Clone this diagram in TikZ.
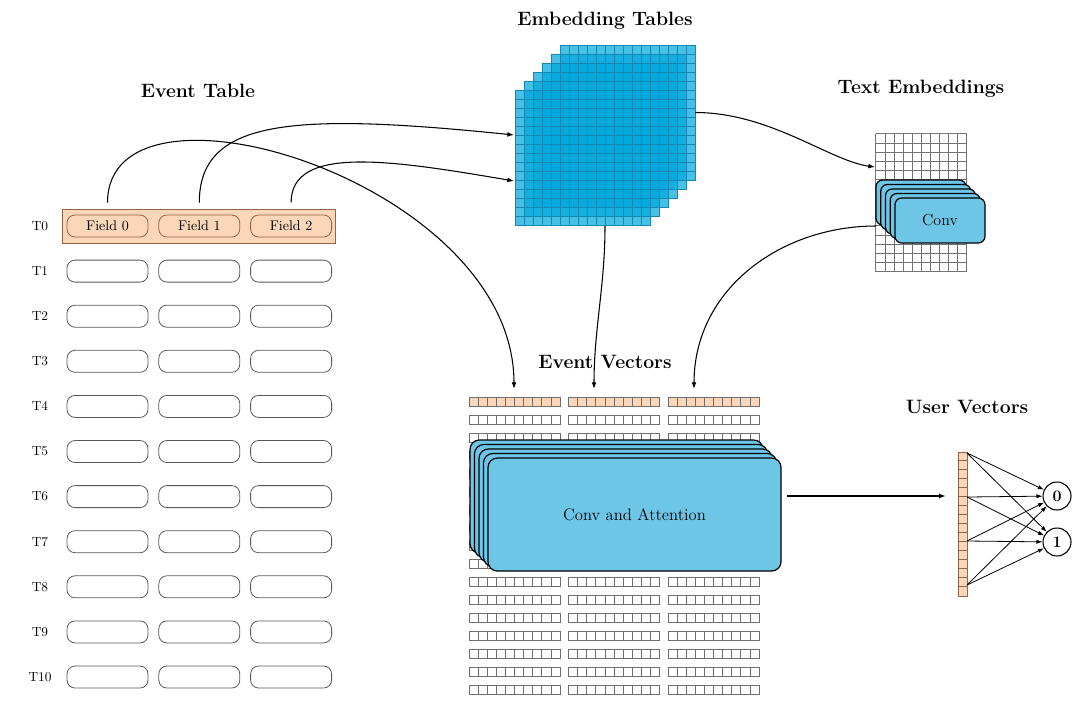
\documentclass[tikz,border=0pt]{standalone}
\usepackage{tikz}
\usepackage{xcolor}
\usetikzlibrary{arrows.meta, positioning}

\definecolor{fieldorange}{RGB}{251,214,184}
\definecolor{fieldbrown}{RGB}{150,100,70}
\definecolor{cellgray}{RGB}{110,110,110}
\definecolor{embblue}{RGB}{0,168,220}
\definecolor{embline}{RGB}{20,135,180}
\definecolor{convblue}{RGB}{110,198,230}

\begin{document}
\begin{tikzpicture}[x=0.75pt, y=-0.75pt,
  title/.style={font=\fontsize{14.5}{17}\selectfont\bfseries},
  rowlabel/.style={font=\fontsize{10}{12}\selectfont},
  field/.style={rectangle, rounded corners=6pt, draw=black!65, line width=0.6pt, minimum width=60.75pt, minimum height=16.5pt, inner sep=0pt, font=\fontsize{10.5}{12}\selectfont},
  hotfield/.style={field, draw=fieldbrown, fill=fieldorange},
  emblayer/.style={rectangle, draw=embline, line width=0.35pt, fill=embblue, fill opacity=0.72, minimum size=101.25pt, inner sep=0pt},
  convlayer/.style={rectangle, rounded corners=5pt, draw=black, line width=0.9pt, fill=convblue, minimum width=67.5pt, minimum height=33.75pt, inner sep=0pt, font=\fontsize{12}{14}\selectfont},
  attnlayer/.style={convlayer, rounded corners=7pt, minimum width=219.75pt, minimum height=84.75pt, font=\fontsize{12.5}{15}\selectfont},
  evcell/.style={draw=cellgray, line width=0.5pt},
  outnode/.style={circle, draw, line width=0.8pt, minimum size=21pt, inner sep=0pt, font=\fontsize{12}{14}\selectfont\bfseries},
  flow/.style={line width=0.8pt, -{Latex[length=5pt, width=3.6pt]}},
  fcflow/.style={line width=0.6pt, -{Latex[length=4.5pt, width=3.2pt]}}]

\useasboundingbox (0,0) rectangle (1080,704);

% titles
\node[title] (evtitle) at (198,91) {Event Table};
\node[title] (embtitle) at (605,21) {Embedding Tables};
\node[title] (txttitle) at (921,89) {Text Embeddings};
\node[title] (vectitle) at (605,362) {Event Vectors};
\node[title] (usrtitle) at (967,407) {User Vectors};

% event table
\node[fill=fieldorange, draw=fieldbrown, line width=0.6pt, minimum width=204.75pt, minimum height=25.5pt, inner sep=0pt] (hl) at (198.5,226) {};
\foreach \i in {0,...,10} {
  \node[rowlabel] (t\i) at (40,{226+45.1*\i}) {T\i};
}
\node[hotfield] (f0-0) at (107.5,226) {Field 0};
\node[hotfield, right=7.5pt of f0-0] (f0-1) {Field 1};
\node[hotfield, right=7.5pt of f0-1] (f0-2) {Field 2};
\foreach \i in {1,...,10} {
  \node[field] (f\i-0) at (107.5,{226+45.1*\i}) {};
  \node[field, right=7.5pt of f\i-0] (f\i-1) {};
  \node[field, right=7.5pt of f\i-1] (f\i-2) {};
}

% embedding tables
\foreach \k in {5,...,0} {
  \node[emblayer] (emb\k) at ({582.5+9*\k},{157.5-9*\k}) {};
  \foreach \g in {1,...,14} {
    \draw[embline, line width=0.35pt] (emb\k.north west) ++({9*\g},0) -- ++(0,135);
    \draw[embline, line width=0.35pt] (emb\k.north west) ++(0,{9*\g}) -- ++(135,0);
  }
}

% text embeddings
\node[minimum width=68.25pt, minimum height=103.5pt, inner sep=0pt] (txt) at (921.5,203) {};
\foreach \g in {0,...,10}
  \draw[black!55, line width=0.4pt] (txt.north west) ++({9.1*\g},0) -- ++(0,138);
\foreach \g in {0,...,15}
  \draw[black!55, line width=0.4pt] (txt.north west) ++(0,{9.2*\g}) -- ++(91,0);
\foreach \k in {4,...,1}
  \node[convlayer] (cv\k) at ({940-4.75*\k},{220.5-4.5*\k}) {};
\node[convlayer] (cv0) at (940,220.5) {Conv};

% event vectors
\foreach \c in {0,1,2}
  \foreach \j in {0,...,9}
    \draw[evcell, fill=fieldorange] ({469+99.5*\c+9.1*\j},397) rectangle +(9.1,9);
\foreach \r in {1,...,16}
  \foreach \c in {0,1,2}
    \foreach \j in {0,...,9}
      \draw[evcell] ({469+99.5*\c+9.1*\j},{397+18*\r}) rectangle +(9.1,9);
\foreach \k in {4,...,1}
  \node[attnlayer] (ca\k) at ({634.5-4.5*\k},{514.5-4.5*\k}) {};
\node[attnlayer] (ca0) at (634.5,514.5) {Conv and Attention};

% user vectors
\node[draw=fieldbrown, fill=fieldorange, line width=0.5pt, minimum width=6.75pt, minimum height=108pt, inner sep=0pt] (uv) at (962.5,524) {};
\foreach \g in {1,...,15}
  \draw[fieldbrown, line width=0.5pt] (uv.north west) ++(0,{9*\g}) -- ++(9,0);
\node[outnode] (o0) at (1057,496) {0};
\node[outnode] (o1) at (1057,542) {1};
\coordinate (u0) at (967,453);
\coordinate (u1) at (967,497);
\coordinate (u2) at (967,541);
\coordinate (u3) at (967,585);
\foreach \s in {0,...,3} {
  \draw[fcflow] (u\s) -- (o0);
  \draw[fcflow] (u\s) -- (o1);
}
\draw[flow, shorten <=3.75pt, shorten >=9pt] (ca0.east |- o0) -- (uv.west |- o0);

% connectors
\coordinate (embin1) at (514,135);
\coordinate (embin2) at (514,181);
\coordinate (embout) at (605,226);
\coordinate (txtin) at (875,167);
\coordinate (convout) at (876,226);
\coordinate (ev0in) at (514,389);
\coordinate (ev1in) at (594,389);
\coordinate (ev2in) at (694,389);

\draw[flow, shorten <=4.5pt] (f0-0 |- hl.north) .. controls +(0,-149) and +(0,-208) .. (ev0in);
\draw[flow, shorten <=4.5pt] (f0-1 |- hl.north) .. controls +(0,-89) and +(-224,-23) .. (embin1);
\draw[flow, shorten <=4.5pt] (f0-2 |- hl.north) .. controls +(0,-64) and +(-123,-21) .. (embin2);
\draw[flow] (embout) .. controls +(0,60) and +(0,-60) .. (ev1in);
\draw[flow] (emb5.east) .. controls +(75,0) and +(-45,-6) .. (txtin);
\draw[flow] (convout) .. controls +(-95,0) and +(0,-100) .. (ev2in);

\end{tikzpicture}
\end{document}
